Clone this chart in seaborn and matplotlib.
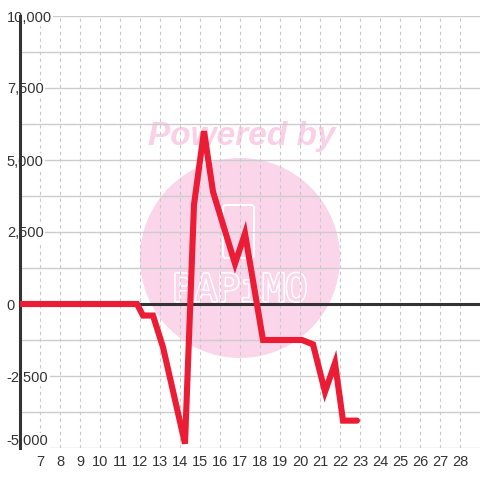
import matplotlib
matplotlib.use('Agg')
import matplotlib.pyplot as plt
import matplotlib.patheffects as pe
from matplotlib.patches import Circle, FancyBboxPatch
from matplotlib.ticker import MultipleLocator, FuncFormatter
import seaborn as sns
import pandas as pd

# values
x_vals = [6, 11.85, 12.15, 12.65, 13.15, 14.25, 14.7, 15.2, 15.65, 16.75, 17.25,
          18.15, 20.1, 20.65, 21.25, 21.75, 22.15, 22.85]
y_vals = [0, 0, -400, -400, -1500, -4850, 3450, 6000, 3900, 1400, 2450,
          -1250, -1250, -1400, -3050, -2050, -4050, -4050]
x_ticks = list(range(7, 29))
y_ticks = [-5000, -2500, 0, 2500, 5000, 7500, 10000]

sns.set_style('white')
plt.rcParams['font.family'] = ['Liberation Sans', 'DejaVu Sans']

fig = plt.figure(figsize=(4.8, 4.8), dpi=100)
ax = fig.add_axes([20/480, 32/480, 460/480, 432/480])

# watermark (behind the grid)
ax.add_patch(Circle((2.40, 4.80 - 2.58), 1.0, transform=fig.dpi_scale_trans,
                    facecolor='#fbd5ea', lw=0, zorder=0.2))
ax.text(2.42, 4.80 - 1.36, 'Powered by', transform=fig.dpi_scale_trans,
        ha='center', va='center', fontsize=24, fontweight='bold', fontstyle='italic',
        color='#fbd0e6', zorder=0.3)
ax.text(2.40, 4.80 - 2.91, 'PAPiMO', transform=fig.dpi_scale_trans,
        ha='center', va='center', fontsize=27, family='DejaVu Sans Mono',
        color='#fbd5ea', zorder=0.3,
        path_effects=[pe.withStroke(linewidth=2.2, foreground='white')])
ax.add_patch(FancyBboxPatch((2.23, 4.80 - 2.58), 0.31, 0.53,
                            boxstyle='round,pad=0,rounding_size=0.03',
                            transform=fig.dpi_scale_trans, fill=False,
                            edgecolor='white', lw=1.5, zorder=0.3))

df = pd.DataFrame({'x': x_vals, 'y': y_vals})
sns.lineplot(data=df, x='x', y='y', sort=False, color='#ec1c35', lw=4.4,
             solid_joinstyle='miter', ax=ax, zorder=3)

ax.axhline(0, color='#333333', lw=2.2, zorder=1.8)

ax.set_xlim(6, 29)
ax.set_ylim(-5000, 10000)
ax.set_xlabel('')
ax.set_ylabel('')

ax.set_xticks(x_ticks)
ax.set_yticks(y_ticks)
ax.yaxis.set_minor_locator(MultipleLocator(1250))
ax.yaxis.set_major_formatter(FuncFormatter(lambda v, p: f'{int(v):,}'))

ax.grid(axis='y', which='both', color='#cccccc', lw=1.0, ls='-')
ax.grid(axis='x', which='major', color='#c8c8c8', lw=0.8, ls=(0, (3, 3)))

ax.tick_params(axis='both', which='both', length=0)
ax.tick_params(axis='y', pad=9.5, labelsize=10.5, labelcolor='#333333')
ax.tick_params(axis='x', pad=5, labelsize=10.5, labelcolor='#333333')
for lab in ax.get_yticklabels():
    lab.set_ha('left')
    lab.set_bbox(dict(facecolor='white', edgecolor='none', pad=1))
ax.get_yticklabels()[0].set_va('bottom')

for s in ['top', 'right', 'bottom']:
    ax.spines[s].set_visible(False)
ax.spines['left'].set_color('#333333')
ax.spines['left'].set_linewidth(2.2)
ax.spines['left'].set_zorder(1.4)

fig.savefig('out.png', dpi=100, facecolor='white')
